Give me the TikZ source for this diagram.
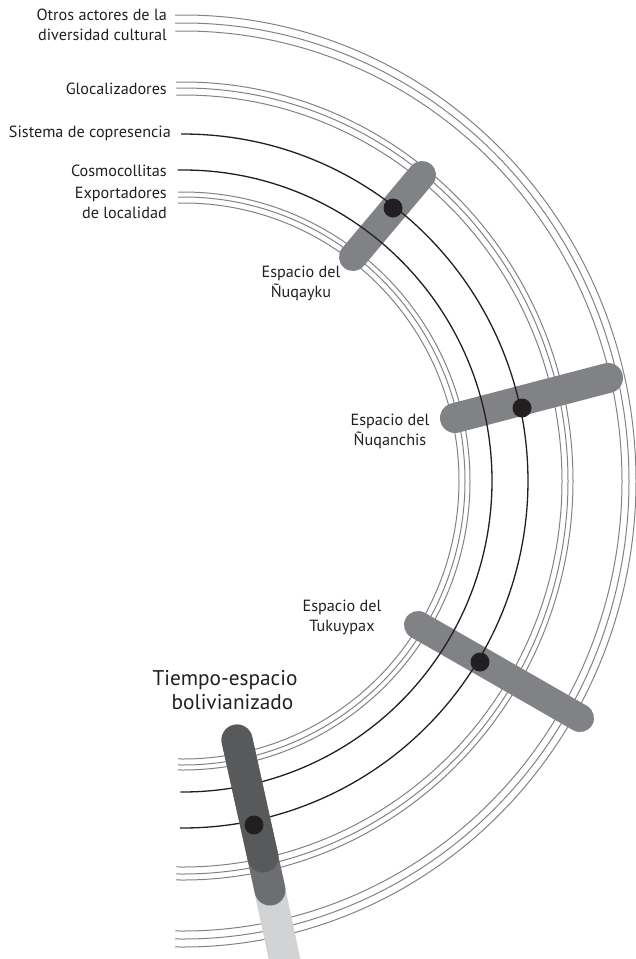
\documentclass[tikz,border=0pt]{standalone}
\usepackage{fontspec}
\setmainfont{PT Sans}
\definecolor{capgray}{HTML}{808285}
\definecolor{dkgray}{HTML}{58595B}
\definecolor{mdgray}{HTML}{6D6E71}
\definecolor{ltgray}{HTML}{D1D3D4}
\definecolor{ink}{HTML}{231F20}
\definecolor{trigray}{HTML}{808285}
\begin{document}
\begin{tikzpicture}[x=1pt,y=-1pt,
  triline/.style={draw=trigray, line width=1pt},
  blkline/.style={draw=ink, line width=1.3pt},
  capsule/.style={line width=28pt, line cap=round, draw=capgray},
  dotnode/.style={circle, fill=ink, inner sep=0pt, minimum size=19pt},
  lbl/.style={font=\fontsize{16.2}{20}\selectfont, text=ink, inner sep=0pt},
  biglbl/.style={font=\fontsize{21.3}{26}\selectfont, text=ink, inner sep=0pt, anchor=base}]
\useasboundingbox (0,0) rectangle (636,959);
\clip (0,0) rectangle (636,959);
\coordinate (C) at (183,481);
% gray triple arcs
\foreach \xr/\yr in {453/466, 446/458, 439/450, 390/399, 385/393, 379/386, 287/289, 282/284, 276/278}
  \draw[triline] (C) ++(91:\xr pt and \yr pt) arc[start angle=91, end angle=-91, x radius=\xr pt, y radius=\yr pt];
% capsules
\coordinate (k1) at (353,257); \coordinate (k2) at (422,175);
\coordinate (n1) at (455,418); \coordinate (n2) at (608,378);
\coordinate (t1) at (418,625); \coordinate (t2) at (580,718);
\draw[capsule] (k1) -- (k2);
\draw[capsule, line width=30pt] (n1) -- (n2);
\draw[capsule] (t1) -- (t2);
% black arcs
\draw[blkline] (C) ++(90.3:345pt and 347pt) arc[start angle=90.3, end angle=-90.5, x radius=345pt, y radius=347pt];
\draw[blkline] (C) ++(91:309pt and 311pt) arc[start angle=91, end angle=-90.5, x radius=309pt, y radius=311pt];
% bolivianizado bar
\coordinate (b1) at (237,740); \coordinate (b2) at (263,857); \coordinate (b3) at (270,890);
\coordinate (l1) at (266,872); \coordinate (l2) at (290,985);
\draw[line width=31pt, draw=ltgray] (l1) -- (l2);
\draw[capsule, line width=31pt, draw=mdgray] (b1) -- (b3);
\draw[capsule, line width=31pt, draw=dkgray] (b1) -- (b2);
% dots
\node[dotnode] (dk) at (393,208) {};
\node[dotnode] (dn) at (522,408) {};
\node[dotnode] (dt) at (480,662) {};
\node[dotnode] (db) at (254,825) {};
% labels
\node[lbl, anchor=east, align=right] (otros) at (167,25) {Otros actores de la\\diversidad cultural};
\node[lbl, anchor=east] (gloc) at (167,89) {Glocalizadores};
\node[lbl, anchor=east] (sist) at (171,133) {Sistema de copresencia};
\node[lbl, anchor=east] (cosmo) at (167,171) {Cosmocollitas};
\node[lbl, anchor=east, align=right] (expo) at (167,203) {Exportadores\\de localidad};
\node[lbl, align=center] (eqk) at (301,283) {Espacio del\\Ñuqayku};
\node[lbl, align=center] (eqn) at (390,431) {Espacio del\\Ñuqanchis};
\node[lbl, align=center] (etk) at (342,617) {Espacio del\\Tukuypax};
\node[biglbl] (tiempo) at (225,685) {Tiempo-espacio};
\node[biglbl] (boliv) at (232.5,709) {bolivianizado};
\end{tikzpicture}
\end{document}
